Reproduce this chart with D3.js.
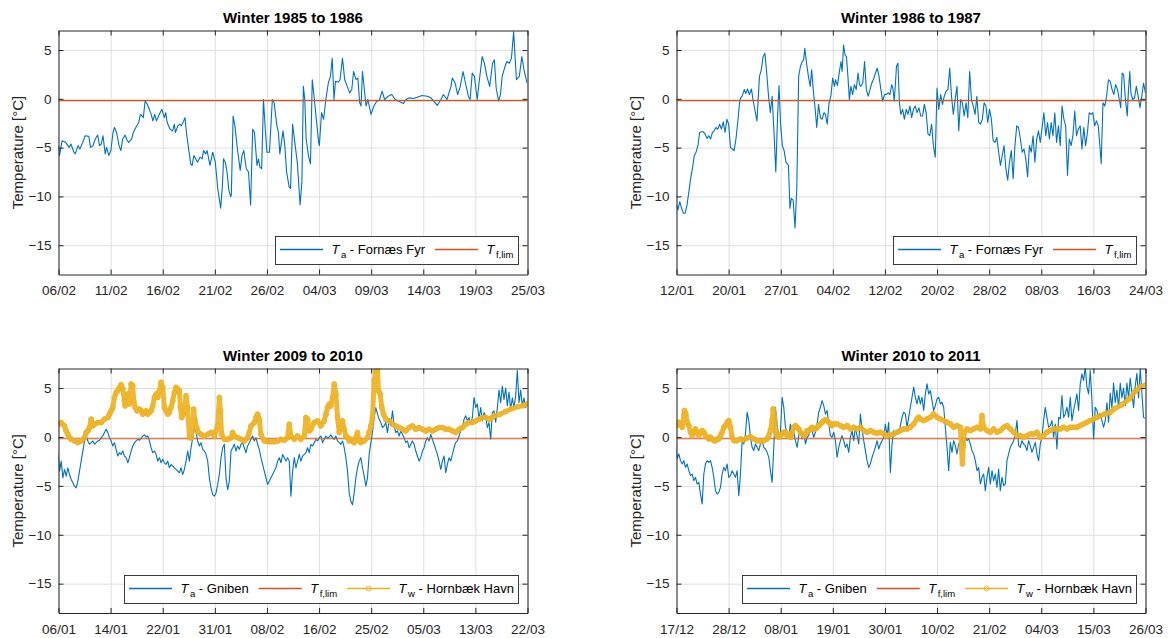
<!DOCTYPE html>
<html><head><meta charset="utf-8">
<script src="https://cdn.jsdelivr.net/npm/d3@7"></script>
<style>
body{margin:0;background:#fff;}
svg{display:block;}
</style></head><body>
<svg id="chart" width="1168" height="638"></svg>
<script>
// ---------------- DATA ----------------
const panelTitles = ["Winter 1985 to 1986", "Winter 1986 to 1987", "Winter 2009 to 2010", "Winter 2010 to 2011"];
const periodStart = ["1986-02-06", "1987-01-12", "2010-01-06", "2010-12-17"];
const periodDays = [47, 71, 75, 99];
const xTicks1986 = ["06/02","11/02","16/02","21/02","26/02","04/03","09/03","14/03","19/03","25/03"];
const xTicks1987 = ["12/01","20/01","27/01","04/02","12/02","20/02","28/02","08/03","16/03","24/03"];
const xTicks2010 = ["06/01","14/01","22/01","31/01","08/02","16/02","25/02","05/03","13/03","22/03"];
const xTicks2011 = ["17/12","28/12","08/01","19/01","30/01","10/02","21/02","04/03","15/03","26/03"];
const yTicks = [-15, -10, -5, 0, 5];
const yDomain = [-18, 7];
const yLabel = "Temperature [°C]";
const tfLim = -0.18;

// [days since period start, °C]
const taFornaes1986 = [[0,-4.8],[0.1,-5.81],[0.36,-4.29],[0.71,-4.46],[1.07,-4.97],[1.25,-4.63],[1.54,-5.47],[1.68,-5.64],[1.96,-4.8],[2.14,-5.14],[2.43,-4.46],[2.68,-3.78],[3.04,-3.85],[3.21,-4.97],[3.46,-4.8],[3.68,-4.12],[3.93,-3.72],[4.11,-4.8],[4.29,-4.63],[4.46,-3.78],[4.68,-5.64],[4.82,-4.97],[5.04,-5.81],[5.25,-5.3],[5.46,-3.45],[5.61,-2.94],[5.82,-3.45],[6.07,-4.8],[6.25,-5.3],[6.43,-4.12],[6.68,-3.72],[6.89,-4.29],[7.04,-4.46],[7.32,-4.12],[7.5,-3.45],[7.75,-2.94],[8.04,-2.43],[8.21,-1.59],[8.39,-1.76],[8.5,-1.93],[8.68,-0.24],[8.82,-0.41],[9.04,-0.91],[9.29,-1.59],[9.46,-2.26],[9.64,-1.59],[9.82,-2.26],[10.11,-1.59],[10.36,-1.08],[10.61,-1.93],[10.75,-1.42],[10.89,-2.43],[11.18,-3.11],[11.43,-3.28],[11.61,-2.6],[11.71,-3.45],[11.96,-2.77],[12.14,-2.6],[12.32,-2.77],[12.68,-1.93],[12.82,-3.45],[13.04,-5.14],[13.25,-6.66],[13.39,-6.82],[13.57,-5.81],[13.75,-6.15],[13.93,-6.49],[14.18,-5.98],[14.39,-6.15],[14.54,-5.3],[14.75,-5.64],[14.89,-5.3],[15.18,-6.82],[15.46,-5.47],[15.71,-6.49],[15.96,-9.19],[16.25,-11.2],[16.43,-8.85],[16.54,-6.15],[16.71,-6.49],[16.89,-7.5],[17.07,-9.36],[17.25,-10.03],[17.32,-9.86],[17.5,-1.76],[17.68,-2.77],[17.93,-5.14],[18.21,-7.33],[18.39,-5.81],[18.57,-5.3],[18.82,-7.16],[19.04,-7.5],[19.25,-10.88],[19.46,-3.11],[19.64,-3.45],[19.89,-6.82],[20.04,-6.15],[20.18,-6.99],[20.36,-7.16],[20.54,-0.07],[20.71,-2.94],[20.89,-5.47],[21.14,-5.47],[21.43,-0.07],[21.61,-0.41],[21.89,-2.77],[22.04,-3.45],[22.18,-5.64],[22.5,-3.28],[22.68,-4.8],[22.86,-7.5],[23.11,-9.02],[23.25,-9.19],[23.46,-2.6],[23.68,-4.46],[23.93,-6.49],[24.21,-10.88],[24.39,-8.51],[24.54,1.28],[24.68,-0.07],[24.82,-4.12],[25.04,-5.81],[25.25,-6.66],[25.43,1.96],[25.61,0.27],[25.82,-1.93],[26.07,-4.46],[26.14,-4.8],[26.36,-1.42],[26.57,-2.09],[26.79,-0.07],[27.04,1.62],[27.25,2.3],[27.43,4.16],[27.61,-0.07],[27.75,1.79],[28.04,1.69],[28.21,1.96],[28.46,4.16],[28.68,1.96],[28.93,1.28],[29.18,0.61],[29.39,0.95],[29.57,2.8],[29.82,1.96],[30.0,2.13],[30.18,-0.41],[30.32,-0.74],[30.46,2.8],[30.82,-0.74],[31.0,-0.07],[31.32,-1.59],[31.61,-0.74],[31.89,-0.24],[32.14,-0.17],[32.43,0.78],[32.68,-0.07],[33.04,0.27],[33.39,0.44],[33.75,-0.07],[34.11,-0.24],[34.57,-0.47],[34.82,-0.07],[35.18,0.1],[35.54,0.03],[35.89,0.14],[36.43,0.34],[36.96,0.27],[37.32,0.1],[37.96,-0.68],[38.32,-0.07],[38.57,0.44],[38.93,-0.07],[39.32,1.22],[39.46,2.13],[39.75,1.62],[40.0,0.44],[40.25,1.22],[40.54,2.8],[40.82,1.45],[41.07,0.27],[41.25,-0.07],[41.46,2.64],[41.68,2.3],[41.96,-0.07],[42.18,1.96],[42.46,4.32],[42.68,3.65],[42.93,2.3],[43.21,1.28],[43.5,3.65],[43.68,3.99],[43.86,1.11],[44.11,-0.24],[44.29,0.44],[44.46,2.3],[44.75,3.31],[44.93,3.82],[45.18,3.65],[45.39,4.16],[45.61,6.86],[45.89,1.96],[46.18,2.3],[46.43,4.32],[46.68,2.8],[46.96,1.62]];

const taFornaes1987 = [[0,-10.88],[0.22,-11.39],[0.49,-10.54],[0.77,-11.22],[1.04,-11.72],[1.32,-11.72],[1.59,-10.88],[1.87,-9.53],[2.14,-8.18],[2.41,-7.16],[2.69,-5.81],[2.96,-5.47],[3.24,-4.8],[3.51,-3.45],[3.79,-3.38],[4.06,-3.38],[4.33,-3.61],[4.61,-4.05],[4.88,-3.78],[5.16,-4.12],[5.43,-3.45],[5.70,-3.28],[5.98,-2.94],[6.25,-3.11],[6.53,-2.6],[6.80,-3.11],[7.08,-2.36],[7.35,-3.45],[7.62,-2.09],[7.90,-2.6],[8.17,-4.97],[8.45,-5.14],[8.72,-5.3],[9.00,-4.12],[9.27,-2.43],[9.54,-0.41],[9.71,0.1],[9.93,0.27],[10.26,0.95],[10.48,0.54],[10.75,1.01],[11.03,0.44],[11.35,1.01],[11.57,-0.07],[11.85,-1.08],[12.18,-2.26],[12.56,2.3],[12.84,2.97],[13.11,4.32],[13.38,4.66],[13.66,2.64],[13.93,0.27],[14.21,-1.42],[14.48,0.27],[14.76,-3.45],[15.03,-7.5],[15.30,-1.76],[15.52,1.35],[15.74,-2.43],[16.02,-4.8],[16.29,-5.3],[16.57,-6.49],[16.95,-6.82],[17.17,-11.22],[17.39,-10.2],[17.66,-10.37],[17.94,-13.24],[18.21,-9.19],[18.49,2.3],[18.76,3.31],[19.03,3.82],[19.25,3.99],[19.42,5.17],[19.69,3.65],[19.97,2.3],[20.24,1.28],[20.46,2.97],[20.68,1.11],[20.95,-0.74],[21.23,-2.94],[21.50,-0.57],[21.78,-1.93],[22.05,-2.09],[22.33,-1.42],[22.55,-1.59],[22.82,-2.6],[23.09,-0.41],[23.37,0.27],[23.64,2.13],[23.92,1.28],[24.08,1.96],[24.36,1.35],[24.63,2.64],[24.90,3.82],[25.07,2.8],[25.29,5.51],[25.51,4.49],[25.73,4.32],[25.95,2.3],[26.17,-0.07],[26.39,1.28],[26.66,0.44],[26.93,1.45],[27.21,0.95],[27.48,2.64],[27.70,1.45],[27.92,1.28],[28.20,1.62],[28.47,3.82],[28.74,0.95],[29.02,0.27],[29.29,0.95],[29.57,1.62],[29.84,2.03],[30.12,2.64],[30.39,3.14],[30.66,2.3],[30.94,0.95],[31.21,-0.24],[31.49,0.44],[31.76,0.44],[32.04,0.61],[32.31,0.44],[32.58,1.45],[32.75,1.11],[32.97,-0.24],[33.30,3.31],[33.52,3.65],[33.74,-0.41],[33.96,-1.59],[34.23,-1.08],[34.50,-2.09],[34.78,-1.08],[35.05,-1.59],[35.33,-0.74],[35.60,-1.93],[35.87,-1.08],[36.15,-0.74],[36.42,-1.42],[36.70,-0.91],[36.97,-1.76],[37.25,-1.76],[37.52,-0.57],[37.79,-1.42],[38.07,-3.61],[38.34,-3.78],[38.62,-2.6],[38.89,-4.8],[39.17,-5.98],[39.44,1.11],[39.71,-1.08],[39.99,0.44],[40.26,-0.57],[40.54,0.27],[40.81,0.78],[41.09,0.95],[41.36,3.14],[41.63,0.27],[41.91,-1.59],[42.18,-0.07],[42.46,1.28],[42.73,-3.28],[43.01,-0.07],[43.28,-0.41],[43.55,-1.76],[43.83,-0.41],[44.10,-1.93],[44.38,2.8],[44.65,-0.07],[44.93,-0.74],[45.20,-1.59],[45.47,0.27],[45.75,-2.43],[46.02,-2.6],[46.30,-2.09],[46.57,-0.41],[46.85,-0.74],[47.12,-2.43],[47.39,-1.08],[47.67,-2.09],[47.94,-4.29],[48.22,-4.46],[48.49,-3.95],[48.77,-5.47],[49.04,-6.82],[49.31,-5.81],[49.59,-4.8],[49.86,-7.16],[50.14,-8.34],[50.41,-6.49],[50.69,-5.3],[50.96,-8.18],[51.23,-4.8],[51.51,-2.77],[51.78,-2.94],[52.06,-4.12],[52.33,-5.47],[52.61,-5.14],[52.88,-6.15],[53.15,-8.01],[53.43,-4.8],[53.70,-5.47],[53.98,-3.78],[54.25,-6.49],[54.53,-4.12],[54.80,-3.28],[55.07,-4.46],[55.35,-2.94],[55.62,-1.42],[55.90,-3.78],[56.17,-2.43],[56.45,-4.12],[56.72,-2.43],[56.99,-3.78],[57.27,-1.42],[57.54,-4.46],[57.82,-2.77],[58.09,-4.8],[58.37,-0.74],[58.64,-2.09],[58.91,-2.77],[59.19,-7.84],[59.46,-4.12],[59.74,-4.8],[60.01,-3.78],[60.29,-1.25],[60.56,-3.78],[60.83,-3.11],[61.11,-2.77],[61.38,-5.14],[61.66,-2.94],[61.93,-4.8],[62.21,-3.45],[62.48,-1.42],[62.75,-1.59],[63.03,-1.42],[63.30,-2.77],[63.58,-2.26],[63.85,-2.77],[64.13,-5.14],[64.29,-6.66],[64.56,-0.41],[64.84,-0.74],[65.11,0.27],[65.39,1.96],[65.66,1.79],[65.94,0.95],[66.21,0.44],[66.48,1.45],[66.76,0.95],[67.03,-0.07],[67.25,-0.91],[67.47,2.64],[67.69,2.47],[67.96,-0.07],[68.24,-1.76],[68.40,0.61],[68.62,2.8],[68.79,0.61],[69.06,-0.07],[69.34,0.1],[69.61,1.28],[69.89,0.27],[70.16,-0.91],[70.44,0.27],[70.71,1.62],[70.98,0.61]];

// Gniben air temperature 2009/10, regular samples
const taGniben2010Start = -0.1;   // days
const taGniben2010Step = 0.2662;  // days between samples
const taGniben2010 = [-1.4,-3.49,-2.47,-4.18,-3.32,-4.01,-3.15,-3.84,-4.35,-4.69,-5.03,-5.21,-4.52,-3.49,-2.47,-1.44,-0.41,0.10,-0.41,-0.75,-0.58,-0.41,-0.75,-0.58,-0.41,-0.34,-0.07,0.10,0.45,0.79,0.45,-0.07,-0.41,-0.92,-0.58,-1.27,-1.95,-1.61,-1.78,-1.44,-1.95,-2.12,-2.64,-2.12,-1.44,-0.92,-0.58,-0.41,-0.24,-0.34,-0.14,0.10,0.21,0,0.10,-0.41,-1.10,-1.61,-1.44,-1.78,-2.47,-2.12,-2.64,-2.29,-2.64,-2.81,-2.47,-3.15,-2.81,-2.98,-3.15,-3.32,-3.49,-3.66,-3.15,-3.84,-3.32,-2.47,-1.44,-2.47,-1.10,-0.07,0.96,0.45,-0.41,-0.92,-0.58,-1.27,-1.44,-1.78,-2.47,-4.18,-5.21,-5.89,-6.06,-5.72,-4.86,-3.84,-2.12,-1.10,-0.75,-4.18,-5.38,-4.52,-1.44,-1.10,-0.75,-1.44,-0.92,-1.27,-0.75,-0.58,-1.10,-1.61,-0.92,-0.58,-0.24,0.10,-0.41,-0.07,-0.75,-1.27,-2.12,-2.81,-3.49,-4.18,-4.86,-4.52,-4.18,-3.84,-3.49,-3.15,-2.47,-2.12,-2.64,-1.78,-2.12,-2.47,-2.12,-2.47,-6.06,-3.49,-2.12,-3.15,-2.47,-1.78,-2.47,-1.95,-1.78,-1.61,-1.10,-1.61,-0.75,-0.92,-0.58,-0.24,-0.41,-0.07,0.10,-0.58,-0.24,0.10,-0.14,0,0.21,-0.07,-0.24,0.10,-0.41,-0.58,-0.75,-0.41,-1.10,-2.12,-3.49,-5.72,-6.58,-6.92,-5.72,-4.18,-3.15,-2.47,-2.12,-3.15,-4.01,-5.03,-4.18,-1.78,-0.58,0.45,1.99,3.01,2.33,1.82,1.47,0.96,1.13,1.47,0.45,1.82,1.13,2.67,1.13,0.45,0.62,0.10,0.62,0.27,-0.07,-0.58,-0.41,-1.10,-0.75,-0.41,-0.75,-1.44,-1.95,-2.47,-2.12,-1.44,-1.10,-0.41,-0.07,-0.41,0.27,-0.24,-0.75,-1.27,-1.78,-2.47,-3.32,-2.47,-1.95,-3.66,-2.81,-2.12,-2.47,-1.78,-1.10,-0.58,-0.41,0.10,0.62,0.96,1.82,2.16,1.64,1.99,1.30,1.99,4.04,3.01,3.36,1.82,3.01,1.64,2.50,2.16,0.96,1.47,-0.24,2.50,2.67,1.5,3.0,4.8,3.5,5.2,3.8,5.0,3.2,4.6,2.8,4.0,3.0,4.2,6.8,3.5,4.8,3.2,4.0,3.0,3.5];

const twHornbaek2010 = [[0,1.30],[0.43,1.47],[0.96,1.13],[1.22,0.62],[1.49,0.27],[1.76,-0.07],[2.02,-0.24],[2.56,-0.41],[3.09,-0.58],[3.62,-0.41],[4.15,-0.07],[4.42,0.45],[4.69,0.62],[4.95,0.96],[5.22,1.82],[5.48,1.13],[5.75,1.30],[6.28,1.47],[6.82,1.47],[7.35,1.82],[7.88,1.99],[8.15,2.33],[8.41,2.67],[8.68,3.01],[8.95,4.04],[9.21,4.55],[9.48,4.73],[9.74,5.07],[10.01,5.34],[10.28,4.90],[10.54,3.70],[10.65,3.18],[10.81,4.04],[11.08,4.38],[11.34,3.36],[11.61,5.41],[11.87,5.24],[12.03,3.70],[12.25,3.01],[12.57,2.67],[12.94,2.84],[13.21,2.67],[13.47,2.33],[13.74,2.50],[14.00,2.67],[14.27,2.33],[14.54,2.50],[14.80,2.67],[15.07,3.18],[15.34,4.04],[15.60,4.38],[15.87,4.04],[16.13,4.73],[16.40,5.58],[16.67,5.07],[16.93,3.01],[17.20,2.67],[17.47,2.33],[17.73,2.50],[18.00,3.01],[18.26,3.70],[18.53,4.55],[18.80,5.07],[19.06,4.90],[19.33,4.73],[19.49,3.01],[19.70,1.99],[19.97,2.33],[20.13,2.67],[20.39,4.21],[20.66,3.01],[20.93,-0.07],[21.19,-0.07],[21.46,0.96],[21.62,2.84],[21.83,1.64],[22.10,0.96],[22.36,0.45],[22.79,0.27],[23.32,0.10],[23.86,0.27],[24.39,0.45],[24.92,0.10],[25.19,0.62],[25.45,1.13],[25.72,4.04],[25.88,2.67],[26.09,0.27],[26.52,-0.24],[27.05,-0.24],[27.58,-0.07],[27.85,0.45],[28.12,0.10],[28.65,-0.07],[29.18,-0.24],[29.71,-0.41],[30.24,-0.07],[30.51,0.45],[30.78,1.13],[31.31,1.47],[31.58,1.99],[31.84,2.33],[32.11,1.82],[32.37,0.27],[32.91,-0.41],[33.44,-0.48],[33.97,-0.48],[34.50,-0.48],[35.04,-0.41],[35.57,-0.24],[36.10,-0.34],[36.63,-0.07],[36.90,1.30],[37.17,0.10],[37.70,-0.24],[38.23,0.10],[38.76,-0.24],[39.30,0.10],[39.56,1.99],[39.83,1.82],[40.10,0.62],[40.36,0.79],[40.89,1.47],[41.43,1.64],[41.96,1.13],[42.49,1.64],[42.76,2.33],[43.02,3.01],[43.29,3.36],[43.56,3.18],[43.82,4.04],[44.09,5.41],[44.36,4.38],[44.62,1.99],[44.89,0.45],[45.15,0.96],[45.42,1.64],[45.69,0.79],[45.95,0.10],[46.22,-0.07],[46.49,-0.41],[46.75,-0.24],[47.02,-0.41],[47.28,-0.58],[47.55,-0.07],[47.82,0.45],[48.08,-0.41],[48.35,-0.58],[48.88,-0.41],[49.41,-0.07],[49.68,0.45],[49.95,1.13],[50.21,1.99],[50.48,5.75],[50.75,6.78],[51.01,6.95],[51.17,4.73],[51.44,4.38],[51.70,3.01],[51.97,2.33],[52.34,1.82],[52.88,1.64],[53.41,1.30],[53.94,1.13],[54.47,0.96],[55.01,0.79],[55.54,0.62],[56.07,0.96],[56.60,1.13],[57.14,0.79],[57.67,0.96],[58.20,0.79],[58.73,0.62],[59.27,0.79],[59.80,0.62],[60.33,0.79],[60.86,0.96],[61.40,0.96],[61.93,0.79],[62.46,0.79],[62.99,0.62],[63.53,0.45],[64.06,0.79],[64.59,0.96],[65.12,1.30],[65.66,1.47],[66.19,1.47],[66.72,1.64],[67.25,1.82],[67.79,1.99],[68.32,1.99],[68.85,1.82],[69.38,1.99],[69.65,2.16],[70.5,2.3],[71.5,2.6],[72.5,2.9],[73.5,3.1],[74.3,3.2],[75,3.4]];

// Gniben air temperature 2010/11, regular samples
const taGniben2011Start = -0.21;
const taGniben2011Step = 0.3516;
const taGniben2011 = [-0.7,-2.2,-1.74,-2.42,-2.76,-2.42,-3.11,-2.76,-3.45,-3.96,-3.79,-4.47,-4.13,-4.81,-4.64,-5.84,-6.86,-3.79,-2.76,-2.42,-2.59,-2.42,-3.11,-4.13,-5.49,-5.84,-5.67,-5.15,-3.79,-3.11,-3.45,-2.76,-4.13,-3.96,-3.45,-3.79,-4.13,-3.45,-6.01,-3.79,-0.38,-0.72,0.31,2.53,1.67,-0.03,-1.06,-1.40,-0.72,-1.06,-1.40,-0.72,-0.38,-1.06,-1.23,-1.57,-2.08,-3.45,-4.64,-1.06,3.04,1.33,-0.03,0.48,4.06,3.04,0.99,0.48,0.14,1.33,-0.20,0.48,-0.38,-1.06,0.14,0.65,-0.20,0.48,-0.72,-0.03,0.14,0.99,0.65,-0.03,0.48,1.33,2.53,3.04,3.72,3.21,2.35,2.70,1.33,0.14,-0.03,0.48,-0.38,-2.08,-1.06,-0.38,0.14,-0.38,-1.06,-0.72,-1.57,-0.03,0.65,-0.38,0.99,0.14,-0.72,2.35,0.82,-0.38,-1.40,-2.42,-3.11,-2.76,-2.08,-1.57,-1.06,-0.38,-1.23,-0.72,-0.38,-0.03,1.33,0.14,1.50,-3.62,-0.72,0.65,0.14,0.65,0.31,1.16,2.01,2.53,2.35,0.99,2.01,3.04,4.06,5.09,4.06,3.38,4.23,3.38,4.06,2.70,4.40,5.43,4.40,4.74,3.72,2.70,3.21,3.89,4.06,3.38,3.55,3.04,0.99,-1.06,-3.45,-0.55,-1.57,-0.38,-0.89,-1.74,-0.72,-0.55,-0.03,-0.89,-0.03,-0.38,-0.20,-0.72,-1.40,-1.74,-2.42,-3.45,-3.11,-4.81,-4.13,-3.79,-5.49,-4.13,-3.11,-4.81,-3.45,-4.47,-3.79,-5.15,-3.28,-5.49,-4.13,-4.98,-4.81,-2.42,-1.74,-1.06,-0.72,-0.38,0.31,1.67,-0.89,-1.06,-0.38,-0.72,-0.89,-1.40,-0.38,-0.89,-1.57,-1.06,-0.55,-1.74,-2.42,-0.72,-0.03,1.67,3.04,2.01,0.99,1.16,1.67,-0.03,1.33,-1.23,2.01,1.84,4.23,2.01,2.35,3.04,2.01,4.06,1.67,2.70,3.55,4.40,2.70,5.43,6.45,5.77,7.13,5.09,4.40,6.79,3.72,-0.20,3.04,2.70,2.01,2.35,1.67,0.99,1.7,3.5,1.5,4.5,3.0,5.5,3.5,4.8,3.0,5.5,4.0,5.0,3.2,5.5,4.0,6.0,4.5,3.0,5.2,6.5,4.0,7.0,4.5,2.0,1.9];

const twHornbaek2011 = [[0,1.16],[0.49,1.50],[0.84,1.33],[1.20,0.99],[1.55,2.18],[1.69,2.70],[1.97,2.35],[2.25,1.50],[2.60,1.16],[2.95,0.48],[3.31,0.14],[3.66,0.48],[4.01,0.82],[4.36,0.48],[4.71,0.14],[5.06,0.48],[5.41,0.65],[5.77,0.48],[6.12,0.14],[6.47,-0.03],[6.82,-0.20],[7.17,-0.03],[7.52,-0.20],[7.88,-0.38],[8.23,-0.38],[8.58,-0.20],[8.93,-0.20],[9.28,0.14],[9.63,0.48],[9.99,0.99],[10.34,1.16],[10.69,1.50],[11.04,1.67],[11.39,0.99],[11.74,-0.03],[12.10,-0.38],[12.80,-0.38],[13.50,-0.20],[14.21,-0.31],[14.91,-0.10],[15.61,0.03],[16.32,-0.20],[17.02,-0.38],[17.72,-0.44],[18.42,-0.38],[19.13,-0.20],[19.48,0.14],[19.83,0.65],[20.18,1.67],[20.39,2.87],[20.68,2.01],[20.96,0.48],[21.24,0.14],[21.59,-0.03],[21.94,0.14],[22.29,0.31],[22.64,0.48],[23.00,0.48],[23.35,0.14],[23.70,0.14],[24.05,-0.03],[24.40,0.48],[24.75,0.99],[25.11,1.16],[25.46,0.99],[25.81,0.82],[26.16,0.48],[26.51,0.31],[26.86,0.14],[27.22,0.31],[27.57,0.65],[27.92,0.65],[28.27,0.82],[28.62,0.99],[28.97,0.82],[29.32,0.82],[29.68,0.99],[30.03,1.16],[30.38,1.33],[30.73,1.50],[31.08,1.67],[31.43,1.74],[31.79,1.67],[32.14,1.50],[32.49,1.33],[32.84,1.16],[33.19,1.33],[33.90,1.33],[34.60,1.16],[35.30,0.99],[36.01,1.16],[36.71,0.82],[37.41,0.99],[38.12,0.82],[38.82,0.99],[39.52,0.65],[40.23,0.48],[40.93,0.65],[41.63,0.48],[42.33,0.38],[43.04,0.48],[43.74,0.31],[44.44,0.14],[45.15,0.24],[45.85,0.31],[46.55,0.48],[47.26,0.65],[47.96,0.82],[48.66,0.82],[49.37,0.99],[50.07,1.33],[50.77,1.84],[51.13,2.01],[51.48,1.84],[52.18,1.67],[52.88,1.84],[53.59,2.01],[54.29,2.35],[54.99,2.01],[55.70,1.84],[56.40,1.67],[57.10,1.50],[57.81,1.33],[58.51,0.99],[59.21,1.16],[59.92,0.99],[60.13,-1.06],[60.34,-2.76],[60.55,-0.89],[60.76,0.48],[61.32,0.82],[62.03,0.65],[62.73,0.82],[63.43,0.99],[64.14,0.82],[64.49,2.18],[64.84,0.99],[65.54,0.65],[66.24,0.48],[66.95,0.82],[67.65,0.48],[68.35,0.65],[69.06,0.99],[69.76,1.16],[70.46,0.82],[71.17,0.48],[71.87,0.14],[72.57,0.14],[73.28,-0.03],[73.98,0.14],[74.68,0.31],[75.39,0.31],[76.09,0.48],[76.79,-0.03],[77.50,0.14],[78.20,0.48],[78.90,0.65],[79.61,0.82],[80.31,0.82],[81.01,0.82],[81.72,0.99],[82.42,0.82],[83.12,0.99],[83.83,0.99],[84.53,0.99],[85.23,1.16],[85.94,1.33],[86.64,1.50],[87.34,1.67],[88.05,1.84],[88.75,2.01],[89.45,2.18],[90.44,2.35],[91.5,2.5],[92.5,2.9],[94.0,3.3],[95.6,3.9],[96.7,4.6],[97.9,5.1],[99.0,5.3]];

// legend labels: [symbol, subscript, rest]
const legendFornaes = [["T", "a", " - Fornæs Fyr"], ["T", "f,lim", ""]];
const legendGniben = [["T", "a", " - Gniben"], ["T", "f,lim", ""], ["T", "w", " - Hornbæk Havn"]];

// ---------------- DRAWING ----------------
const FONT = "'Liberation Sans', Arial, Helvetica, sans-serif";
const C_BLUE = "#0072BD", C_RED = "#D95319", C_YEL = "#EDB120", C_AX = "#262626", C_GRID = "#dfdfdf";
const DAY = 864e5;
const parseDate = d3.timeParse("%Y-%m-%d");
const svg = d3.select("#chart").attr("font-family", FONT);

const boxes = [
  {left: 58.5, top: 30.5, w: 469, h: 244},
  {left: 676.5, top: 30.5, w: 469, h: 244},
  {left: 58.5, top: 368.5, w: 469, h: 244.5},
  {left: 676.5, top: 368.5, w: 469, h: 244.5}
];

function regular(start, step, vals) { return vals.map((v, i) => [start + i * step, v]); }

const panels = [
  {title: panelTitles[0], start: periodStart[0], days: periodDays[0], ticks: xTicks1986,
   ta: taFornaes1986, tw: null, legend: legendFornaes},
  {title: panelTitles[1], start: periodStart[1], days: periodDays[1], ticks: xTicks1987,
   ta: taFornaes1987, tw: null, legend: legendFornaes},
  {title: panelTitles[2], start: periodStart[2], days: periodDays[2], ticks: xTicks2010,
   ta: regular(taGniben2010Start, taGniben2010Step, taGniben2010), tw: twHornbaek2010, legend: legendGniben},
  {title: panelTitles[3], start: periodStart[3], days: periodDays[3], ticks: xTicks2011,
   ta: regular(taGniben2011Start, taGniben2011Step, taGniben2011), tw: twHornbaek2011, legend: legendGniben}
];

panels.forEach((p, idx) => {
  const b = boxes[idx];
  const t0 = parseDate(p.start);
  const toDate = d => new Date(t0.getTime() + d * DAY);
  const x = d3.scaleTime().domain([t0, toDate(p.days)]).range([b.left, b.left + b.w]);
  const y = d3.scaleLinear().domain(yDomain).range([b.top + b.h, b.top]);
  const n = p.ticks.length;
  const tickDates = p.ticks.map((_, i) => toDate(i * p.days / (n - 1)));
  const g = svg.append("g");

  // grid
  g.append("g").attr("transform", `translate(0,${b.top + b.h})`)
    .call(d3.axisBottom(x).tickValues(tickDates).tickSize(-b.h).tickFormat(""))
    .call(s => { s.select(".domain").remove(); s.selectAll("line").attr("stroke", C_GRID).attr("stroke-width", 1); });
  g.append("g").attr("transform", `translate(${b.left},0)`)
    .call(d3.axisLeft(y).tickValues(yTicks).tickSize(-b.w).tickFormat(""))
    .call(s => { s.select(".domain").remove(); s.selectAll("line").attr("stroke", C_GRID).attr("stroke-width", 1); });

  // clip
  const cid = "clip" + idx;
  g.append("clipPath").attr("id", cid).append("rect")
    .attr("x", b.left).attr("y", b.top).attr("width", b.w).attr("height", b.h);
  const plot = g.append("g").attr("clip-path", `url(#${cid})`);
  const line = d3.line().x(d => x(toDate(d[0]))).y(d => y(d[1]));

  plot.append("path").datum(p.ta).attr("d", line)
    .attr("fill", "none").attr("stroke", C_BLUE).attr("stroke-width", 1.1).attr("stroke-linejoin", "round");
  plot.append("path").datum([[0, tfLim], [p.days, tfLim]]).attr("d", line)
    .attr("fill", "none").attr("stroke", C_RED).attr("stroke-width", 1.1);
  if (p.tw) {
    plot.append("path").datum(p.tw).attr("d", line)
      .attr("fill", "none").attr("stroke", C_YEL).attr("stroke-width", 5)
      .attr("stroke-linejoin", "round").attr("stroke-linecap", "round").attr("opacity", 0.9);
    plot.append("g").selectAll("circle").data(p.tw).join("circle")
      .attr("cx", d => x(toDate(d[0]))).attr("cy", d => y(d[1])).attr("r", 2.5)
      .attr("fill", "none").attr("stroke", C_YEL).attr("stroke-width", 0.9);
  }

  // axes (box, inward ticks)
  const styleAxis = s => s.attr("color", C_AX).attr("font-size", 13.5).attr("font-family", FONT);
  g.append("g").attr("transform", `translate(0,${b.top + b.h})`)
    .call(d3.axisBottom(x).tickValues(tickDates).tickFormat((d, i) => p.ticks[i])
      .tickSizeInner(-5).tickSizeOuter(0).tickPadding(11)).call(styleAxis);
  g.append("g").attr("transform", `translate(0,${b.top})`)
    .call(d3.axisTop(x).tickValues(tickDates).tickFormat("").tickSizeInner(-5).tickSizeOuter(0)).call(styleAxis);
  g.append("g").attr("transform", `translate(${b.left},0)`)
    .call(d3.axisLeft(y).tickValues(yTicks).tickSizeInner(-5).tickSizeOuter(0).tickPadding(7)).call(styleAxis);
  g.append("g").attr("transform", `translate(${b.left + b.w},0)`)
    .call(d3.axisRight(y).tickValues(yTicks).tickFormat("").tickSizeInner(-5).tickSizeOuter(0)).call(styleAxis);

  // title and y label
  g.append("text").attr("x", b.left + b.w / 2).attr("y", b.top - 7.5)
    .attr("text-anchor", "middle").attr("font-weight", "bold").attr("font-size", 15).attr("fill", "#000")
    .text(p.title);
  g.append("text").attr("transform", `translate(${b.left - 36},${b.top + b.h / 2}) rotate(-90)`)
    .attr("text-anchor", "middle").attr("font-size", 15).attr("fill", C_AX).text(yLabel);

  // legend
  const colors = [C_BLUE, C_RED, C_YEL];
  const lg = g.append("g");
  const bg = lg.append("rect");
  let cx = 4.5;
  p.legend.forEach((e, i) => {
    lg.append("line").attr("x1", cx).attr("x2", cx + 43).attr("y1", 13).attr("y2", 13)
      .style("stroke", colors[i]).style("stroke-width", 1.3);
    if (i === 2) lg.append("circle").attr("cx", cx + 21.5).attr("cy", 13).attr("r", 2.5)
      .style("fill", "none").style("stroke", colors[i]).style("stroke-width", 0.9);
    cx += 43 + 8.5;
    const t = lg.append("text").attr("x", cx).attr("y", 17).attr("font-size", 13).attr("fill", "#000");
    t.append("tspan").attr("font-style", "italic").text(e[0]);
    t.append("tspan").attr("font-size", 9.5).attr("dx", 1.5).attr("dy", 4.5).text(e[1]);
    if (e[2]) t.append("tspan").attr("dy", -4.5).text(e[2]);
    cx += t.node().getComputedTextLength() + 1.5 + 10;
  });
  const lw = Math.round(cx - 10 + 5), lh = 28;
  bg.attr("x", 0).attr("y", 0).attr("width", lw).attr("height", lh)
    .attr("fill", "#fff").attr("stroke", C_AX).attr("stroke-width", 0.9);
  lg.attr("transform", `translate(${Math.round(b.left + b.w - 9.5 - lw) + 0.5},${Math.round(b.top + b.h - 10.5 - lh) + 0.5})`);
});
</script>
</body></html>
